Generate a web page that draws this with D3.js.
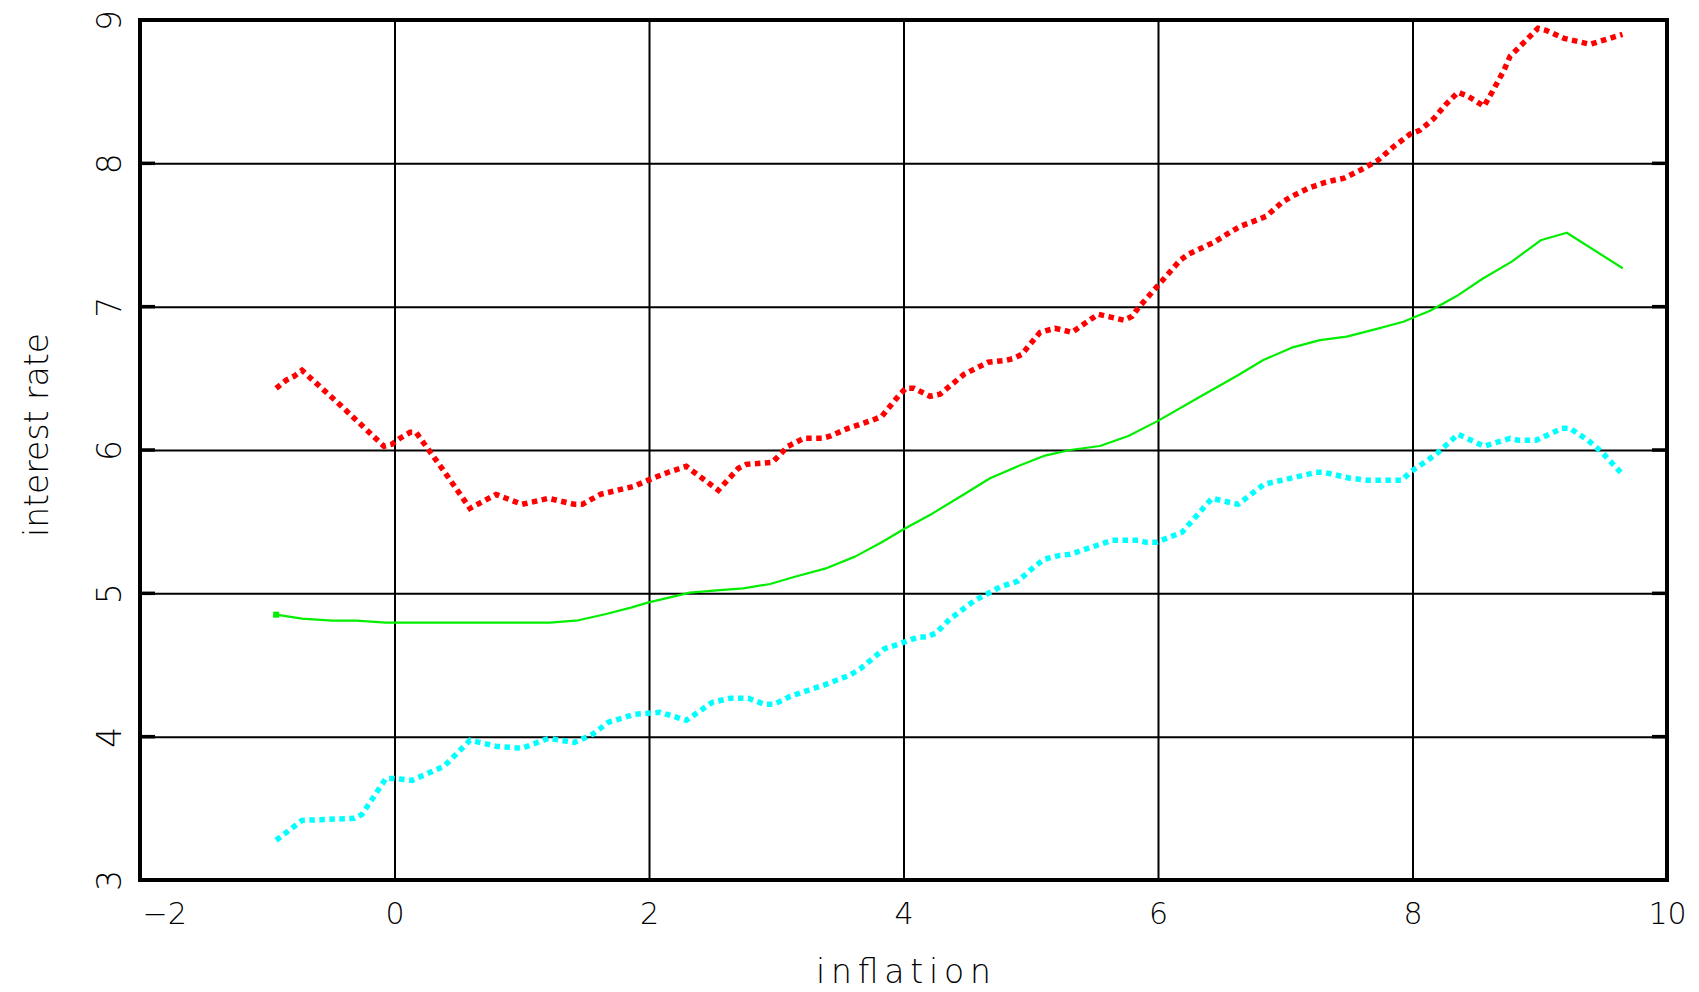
<!DOCTYPE html>
<html>
<head>
<meta charset="utf-8">
<script src="https://cdn.jsdelivr.net/npm/d3@7"></script>
<style>
  html, body { margin: 0; padding: 0; background: #ffffff; }
  svg { display: block; }
  text { font-family: "DejaVu Sans", "Liberation Sans", sans-serif; font-weight: 200; fill: #000; }
</style>
</head>
<body>
<svg id="chart" width="1699" height="992"></svg>
<script>
// ---- data ----
const xTicks = [-2, 0, 2, 4, 6, 8, 10];
const yTicks = [3, 4, 5, 6, 7, 8, 9];
const xTitle = "inflation";
const yTitle = "interest rate";

// upper band (red, dotted)
const redX = [-0.93,-0.853,-0.79,-0.727,-0.428,-0.083,-0.02,0.043,0.122,0.169,0.373,0.593,0.798,1.002,1.209,1.413,1.476,1.618,1.885,2.026,2.152,2.293,2.545,2.702,2.765,2.969,3.032,3.092,3.218,3.36,3.422,3.564,3.752,3.83,3.972,4.019,4.082,4.208,4.287,4.475,4.664,4.806,4.869,4.931,5.073,5.19,5.261,5.324,5.529,5.733,5.796,5.843,6.173,6.236,6.44,6.566,6.645,6.77,6.849,6.975,7.053,7.179,7.32,7.383,7.461,7.587,7.729,7.855,7.98,8.059,8.169,8.263,8.358,8.436,8.562,8.625,8.719,8.767,8.876,8.986,9.049,9.191,9.395,9.65];
const redY = [6.43,6.486,6.514,6.556,6.315,6.026,6.04,6.082,6.123,6.123,5.872,5.593,5.69,5.621,5.663,5.621,5.621,5.691,5.747,5.802,5.845,5.886,5.719,5.872,5.9,5.914,5.97,6.026,6.082,6.082,6.096,6.151,6.207,6.235,6.389,6.431,6.431,6.375,6.389,6.528,6.612,6.626,6.64,6.668,6.821,6.849,6.835,6.821,6.947,6.905,6.933,6.989,7.323,7.365,7.449,7.519,7.56,7.602,7.63,7.728,7.77,7.826,7.868,7.882,7.896,7.951,8.021,8.119,8.203,8.231,8.314,8.412,8.496,8.468,8.398,8.496,8.649,8.747,8.844,8.942,8.928,8.872,8.83,8.9];

// lower band (cyan, dotted)
const cyanX = [-0.93,-0.727,-0.318,-0.255,-0.067,-0.004,0.138,0.389,0.593,0.798,1.002,1.209,1.413,1.555,1.68,1.885,2.089,2.293,2.498,2.639,2.78,2.906,2.985,3.11,3.375,3.58,3.658,3.847,3.988,4.114,4.177,4.256,4.365,4.554,4.758,4.9,5.026,5.104,5.229,5.309,5.639,5.843,5.906,5.985,6.189,6.424,6.629,6.833,7.037,7.242,7.305,7.509,7.65,7.917,7.98,8.185,8.358,8.562,8.767,8.829,8.971,9.175,9.238,9.379,9.489,9.65];
const cyanY = [3.277,3.416,3.43,3.458,3.709,3.709,3.695,3.793,3.975,3.933,3.919,3.988,3.96,4.016,4.10,4.156,4.17,4.114,4.24,4.268,4.268,4.226,4.226,4.282,4.36,4.43,4.472,4.612,4.654,4.695,4.695,4.723,4.821,4.947,5.044,5.086,5.184,5.237,5.265,5.272,5.37,5.37,5.356,5.356,5.426,5.663,5.621,5.761,5.802,5.844,5.844,5.803,5.789,5.789,5.844,5.97,6.11,6.026,6.082,6.068,6.068,6.151,6.151,6.068,5.984,5.83];

// central estimate (green, solid)
const greenX = [-0.93,-0.727,-0.49,-0.30,-0.067,1.222,1.445,1.655,1.865,1.99,2.322,2.558,2.741,2.951,3.147,3.383,3.619,3.829,4.004,4.222,4.457,4.68,4.903,5.112,5.309,5.544,5.767,6.003,6.33,6.618,6.828,7.051,7.273,7.483,7.705,7.928,8.138,8.347,8.557,8.78,9.007,9.212,9.652];
const greenY = [4.851,4.823,4.809,4.809,4.795,4.795,4.812,4.854,4.902,4.935,5.005,5.023,5.035,5.065,5.116,5.172,5.256,5.356,5.449,5.554,5.681,5.803,5.888,5.961,6.0,6.028,6.098,6.205,6.372,6.516,6.628,6.714,6.767,6.791,6.842,6.895,6.972,7.074,7.198,7.314,7.463,7.516,7.268];

// ---- layout ----
const svg = d3.select("#chart");
const pL = 140, pR = 1667, pT = 20, pB = 880;
const W = pR - pL, H = pB - pT;

const x = d3.scaleLinear().domain([-2, 10]).range([pL, pR]);
const y = d3.scaleLinear().domain([3, 9]).range([pB, pT]);

svg.append("rect").attr("x", 0).attr("y", 0).attr("width", 1699).attr("height", 992).attr("fill", "#fff");

const fmt = d => d < 0 ? "\u2212" + Math.abs(d) : String(d);

const gx = svg.append("g").attr("transform", `translate(0,${pB})`)
  .call(d3.axisBottom(x).tickValues(xTicks).tickSize(-H).tickPadding(0).tickFormat(fmt));
gx.select(".domain").remove();
gx.selectAll(".tick line").attr("stroke", "#000").attr("stroke-width", 2);
gx.selectAll(".tick text")
  .attr("y", 0).attr("dy", 0)
  .attr("transform", "translate(0,44)")
  .style("font-size", "30px")
  .attr("text-anchor", d => d === xTicks[0] ? "start" : "middle")
  .attr("x", d => d === xTicks[0] ? 2 : 0);

const gy = svg.append("g").attr("transform", `translate(${pL},0)`)
  .call(d3.axisLeft(y).tickValues(yTicks).tickSize(-W).tickPadding(0).tickFormat(fmt));
gy.select(".domain").remove();
gy.selectAll(".tick line").attr("stroke", "#000").attr("stroke-width", 2);
gy.selectAll(".tick text")
  .attr("x", 0).attr("dy", 0)
  .attr("text-anchor", "middle")
  .attr("transform", "translate(-19,0) rotate(-90)")
  .style("font-size", "33px");

// short inner tick marks on the frame
const tickG = svg.append("g").attr("stroke", "#000").attr("stroke-width", 3.5);
tickG.selectAll("line.yl").data(yTicks).join("line").attr("class", "yl")
  .attr("x1", pL).attr("x2", pL + 15).attr("y1", d => y(d)).attr("y2", d => y(d));
tickG.selectAll("line.yr").data(yTicks).join("line").attr("class", "yr")
  .attr("x1", pR - 15).attr("x2", pR).attr("y1", d => y(d)).attr("y2", d => y(d));

// frame
svg.append("rect").attr("x", pL).attr("y", pT).attr("width", W).attr("height", H)
  .attr("fill", "none").attr("stroke", "#000").attr("stroke-width", 4);

// series
const line = d3.line().x(d => x(d[0])).y(d => y(d[1]));
const zip = (a, b) => a.map((v, i) => [v, b[i]]);

svg.append("path").datum(zip(greenX, greenY)).attr("d", line)
  .attr("fill", "none").attr("stroke", "#00ee00").attr("stroke-width", 2.2).attr("stroke-linejoin", "round");
svg.append("rect")
  .attr("x", x(greenX[0]) - 3).attr("y", y(greenY[0]) - 3).attr("width", 6).attr("height", 6)
  .attr("fill", "#00ee00");

svg.append("path").datum(zip(redX, redY)).attr("d", line)
  .attr("fill", "none").attr("stroke", "#ff0000").attr("stroke-width", 5.5)
  .attr("stroke-dasharray", "5.5,4.5");
svg.append("path").datum(zip(cyanX, cyanY)).attr("d", line)
  .attr("fill", "none").attr("stroke", "#00ffff").attr("stroke-width", 5.5)
  .attr("stroke-dasharray", "5.5,4.5");

// titles
svg.append("text").attr("x", (pL + pR) / 2).attr("y", 983)
  .attr("text-anchor", "middle").style("font-size", "33px")
  .attr("textLength", 175).attr("lengthAdjust", "spacing")
  .text(xTitle);
svg.append("text").attr("transform", "translate(48,435) rotate(-90)")
  .attr("text-anchor", "middle").style("font-size", "33px")
  .attr("textLength", 204).attr("lengthAdjust", "spacing")
  .text(yTitle);
</script>
</body>
</html>
